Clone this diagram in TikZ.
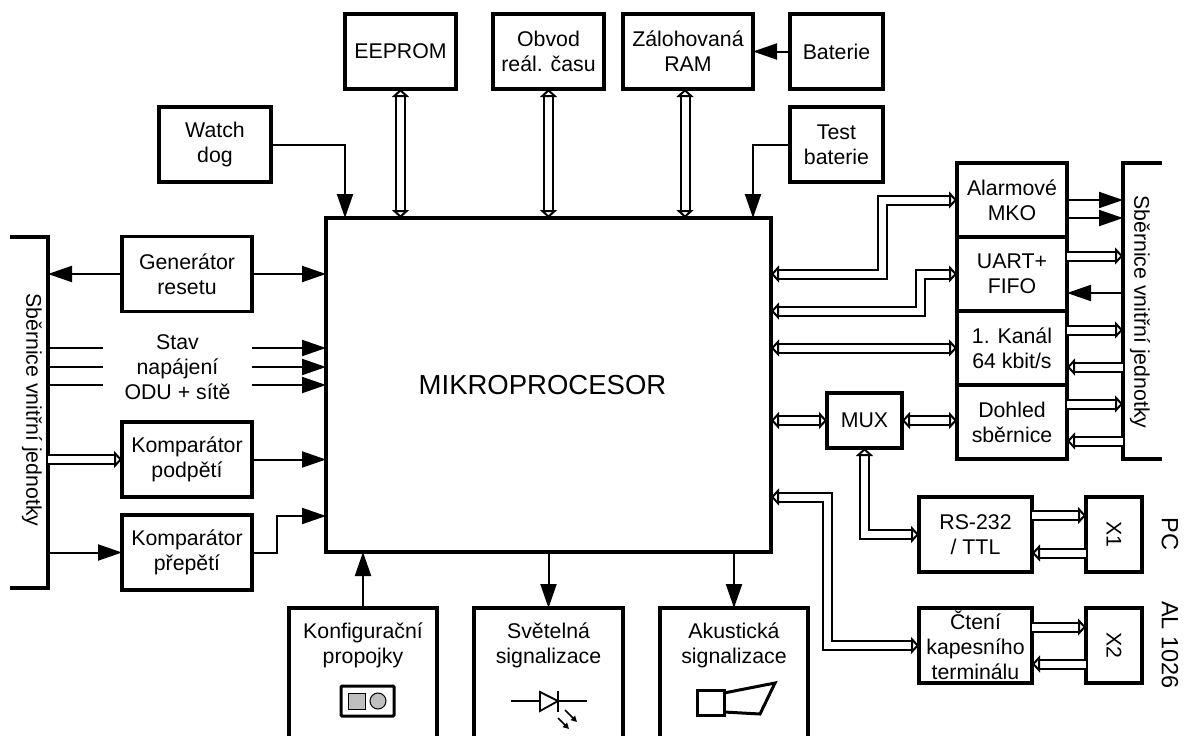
\documentclass[tikz,border=0pt]{standalone}
\usepackage{fontspec}
\setmainfont{Liberation Sans}
\usetikzlibrary{arrows.meta}
\begin{document}
\begin{tikzpicture}[
      x=1pt, y=-1pt,
      every node/.style={font=\fontsize{21.3}{25}\selectfont, align=center, inner sep=0pt, outer sep=0pt},
      block/.style={rectangle, draw=black, line width=3.2pt, minimum height=75pt},
      opened/.style={rectangle, minimum height=128pt},
      busbar/.style={rectangle},
      rim/.style={line width=3.2pt},
      sig/.style={line width=2pt, -{Triangle[length=24pt, width=16pt]}},
      wire/.style={line width=2pt},
      bus/.style={line width=2pt, double, double distance=7pt, {Triangle[open, fill=white, length=8pt, width=17pt]}-{Triangle[open, fill=white, length=8pt, width=17pt]}},
      busto/.style={line width=2pt, double, double distance=7pt, -{Triangle[open, fill=white, length=8pt, width=17pt]}}
  ]
    \useasboundingbox (0,0) rectangle (1184,736);

    % top row
    \node[block, minimum width=112pt] (watch) at (215,144.5) {Watch\\dog};
    \node[block, minimum width=111pt] (eeprom) at (400.5,51.5) {EEPROM};
    \node[block, minimum width=111pt] (obvod) at (548.5,51.5) {Obvod\\reál. času};
    \node[block, minimum width=130pt] (ram) at (688,51.5) {Zálohovaná\\RAM};
    \node[block, minimum width=93pt] (baterie) at (836.5,51.5) {Baterie};
    \node[block, minimum width=93pt] (test) at (836.5,144.5) {Test\\baterie};

    \node[block, minimum width=445pt, minimum height=334pt, font=\fontsize{27.5}{30}\selectfont] (mikro) at (548.5,385) {\hspace*{-12pt}MIKROPROCESOR};

    % left side
    \node[busbar, minimum width=38pt, minimum height=351pt] (busL) at (29,412.5) {};
    \node (busLtext) at (32,410) {\rotatebox{-90}{Sběrnice vnitřní jednotky}};
    \node[block, minimum width=130pt] (gen) at (187,274) {Generátor\\resetu};
    \node[minimum width=149pt] (stav) at (177.5,367) {Stav\\napájení\\ODU + sítě};
    \node[block, minimum width=130pt] (kompod) at (187,459.5) {Komparátor\\podpětí};
    \node[block, minimum width=130pt] (kompre) at (187,552.5) {Komparátor\\přepětí};

    % bottom row
    \node[opened, minimum width=148pt] (konf) at (363,672) {};
    \node[opened, minimum width=149pt] (svet) at (548.5,672) {};
    \node[opened, minimum width=148pt] (akus) at (734,672) {};
    \node (konftext) at (363,645) {Konfigurační\\propojky};
    \node (svettext) at (548.5,645) {Světelná\\signalizace};
    \node (akustext) at (734,645) {Akustická\\signalizace};
    \foreach \x in {konf,svet,akus} {
      \draw[rim] (\x.south west) |- (\x.north east) -- (\x.south east);
    }

    % right side
    \node[block, minimum width=110pt, minimum height=74pt] (alarm) at (1012,200) {Alarmové\\MKO};
    \node[block, minimum width=110pt, minimum height=74pt] (uart) at (1012,274) {UART+\\FIFO};
    \node[block, minimum width=110pt, minimum height=74pt] (kanal) at (1012,348) {1. Kanál\\64 kbit/s};
    \node[block, minimum width=110pt, minimum height=74pt] (dohled) at (1012,422) {Dohled\\sběrnice};
    \node[block, minimum width=75pt, minimum height=55pt] (mux) at (864.5,420.5) {MUX};
    \node[busbar, minimum width=39pt, minimum height=296pt] (busR) at (1142.5,311) {};
    \node (busRtext) at (1140,312) {\rotatebox{-90}{Sběrnice vnitřní jednotky}};
    \node[block, minimum width=113pt] (rs) at (975.5,534.5) {RS-232\\/ TTL};
    \node[block, minimum width=113pt] (cteni) at (975.5,645.5) {Čtení\\kapesního\\terminálu};
    \node[block, minimum width=56pt] (xa) at (1114,534.5) {\rotatebox{-90}{X1}};
    \node[block, minimum width=56pt] (xb) at (1114,645.5) {\rotatebox{-90}{X2}};
    \node[font=\fontsize{23.5}{25}\selectfont] (pc) at (1170,534) {\rotatebox{-90}{PC}};
    \node[font=\fontsize{23.5}{25}\selectfont] (al) at (1170,645) {\rotatebox{-90}{AL 1026}};

    \draw[rim] (busL.north west) -| (busL.south east) -- (busL.south west);
    \draw[rim] (busR.north east) -| (busR.south west) -- (busR.south east);

    % signals
    \draw[sig] (watch.east) -| (345,0 |- mikro.north);
    \draw[sig] (test.west) -| (753,0 |- mikro.north);
    \draw[sig] (baterie.west) -- (ram.east);
    \draw[sig] (gen.west) -- (busL.east |- gen);
    \draw[sig] (gen.east) -- (mikro.west |- gen);
    \foreach \y in {348,367,385} {
      \draw[wire] (busL.east |- 0,\y) -- (stav.west |- 0,\y);
      \draw[sig] (stav.east |- 0,\y) -- (mikro.west |- 0,\y);
    }
    \draw[sig] (kompod.east) -- (mikro.west |- kompod);
    \draw[sig] (busL.east |- kompre) -- (kompre.west);
    \draw[sig] (kompre.east) -- ++(25,0) |- (mikro.west |- 0,516);
    \draw[sig] (konf.north) -- (konf.north |- mikro.south);
    \draw[sig] (svet.north |- mikro.south) -- (svet.north);
    \draw[sig] (akus.north |- mikro.south) -- (akus.north);
    \foreach \y in {200,218} {
      \draw[sig] (alarm.east |- 0,\y) -- (busR.west |- 0,\y);
    }
    \draw[sig] (busR.west |- 0,293) -- (uart.east |- 0,293);

    % buses
    \draw[busto] (busL.east |- kompod) -- (kompod.west);
    \draw[bus] (eeprom.south) -- (eeprom.south |- mikro.north);
    \draw[bus] (obvod.south) -- (obvod.south |- mikro.north);
    \draw[bus] (685,0 |- ram.south) -- (685,0 |- mikro.north);
    \draw[bus] (mikro.east |- uart) -| (882,0 |- alarm) -- (alarm.west);
    \draw[bus] (mikro.east |- 0,311) -| (920,0 |- uart) -- (uart.west);
    \draw[bus] (mikro.east |- kanal) -- (kanal.west);
    \draw[bus] (mikro.east |- mux) -- (mux.west);
    \draw[bus] (mux.east) -- (dohled.west |- mux);
    \draw[bus] (mux.south) |- (rs.west);
    \draw[bus] (mikro.east |- 0,497) -| (827,0 |- cteni) -- (cteni.west);
    \foreach \blk/\y in {uart/256,kanal/330,dohled/404} {
      \draw[busto] (\blk.east |- 0,\y) -- (busR.west |- 0,\y);
    }
    \foreach \blk/\y in {kanal/367,dohled/441} {
      \draw[busto] (busR.west |- 0,\y) -- (\blk.east |- 0,\y);
    }
    \draw[busto] (rs.east |- 0,515.5) -- (xa.west |- 0,515.5);
    \draw[busto] (xa.west |- 0,553) -- (rs.east |- 0,553);
    \draw[busto] (cteni.east |- 0,627) -- (xb.west |- 0,627);
    \draw[busto] (xb.west |- 0,664) -- (cteni.east |- 0,664);

    % jumper
    \draw[line width=3pt, rounded corners=1pt] (341,686) rectangle (394,716);
    \draw[line width=1pt, fill=black!25] (348,693) rectangle (365,709);
    \draw[line width=1pt, fill=black!25] (378,701) circle (8);
    % led
    \draw[line width=1.8pt] (511,701) -- (587,701);
    \draw[line width=1.8pt, fill=white] (540,692) -- (540,711) -- (558,701) -- cycle;
    \draw[line width=1.8pt] (558,691) -- (558,712);
    \draw[line width=1.6pt, -{Triangle[length=6pt, width=6pt]}] (565,710) -- (577,722);
    \draw[line width=1.6pt, -{Triangle[length=6pt, width=6pt]}] (558,718) -- (569,729);
    % speaker
    \draw[line width=3pt] (697,690) rectangle (724,715);
    \draw[line width=3pt] (724,693) -- (775,683) -- (760,714) -- (724,712);
  \end{tikzpicture}
\end{document}
